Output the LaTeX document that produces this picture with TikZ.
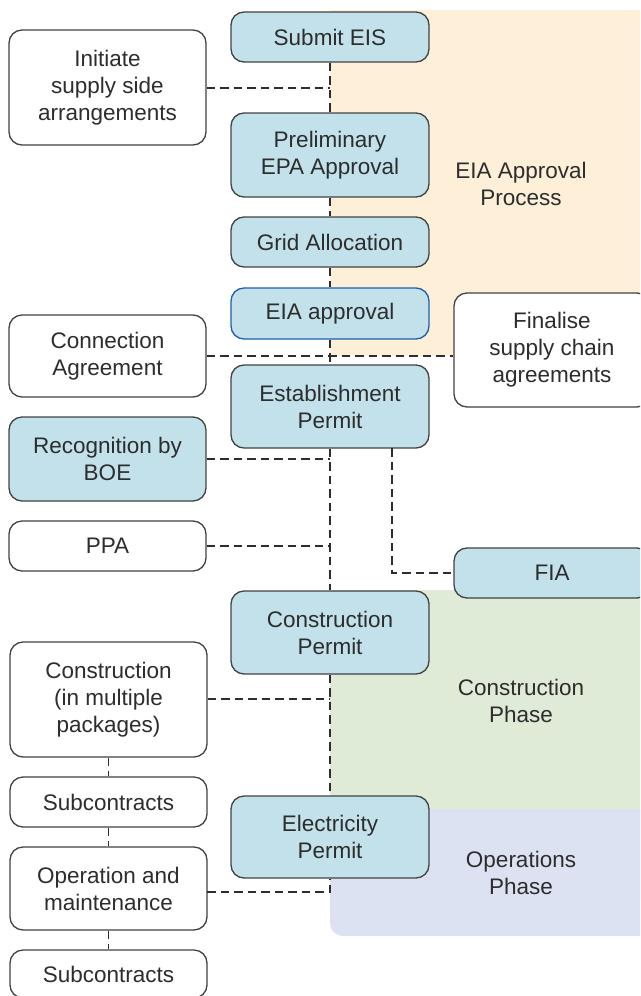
\documentclass[tikz,border=0pt]{standalone}
\usepackage{fontspec}
\setmainfont{Liberation Sans}
\definecolor{boxblue}{RGB}{194,225,234}
\definecolor{peach}{RGB}{254,239,217}
\definecolor{phgreen}{RGB}{223,234,215}
\definecolor{lav}{RGB}{220,226,242}
\definecolor{ink}{RGB}{45,45,45}
\definecolor{eiaborder}{RGB}{30,95,170}
\tikzset{
  base/.style={draw=ink!90, line width=1.3pt, rounded corners=13pt, align=center,
     text=ink, font=\fontsize{22.5}{27}\selectfont, inner sep=0pt},
  wbox/.style={base, fill=white},
  bbox/.style={base, fill=boxblue},
  mainbox/.style={bbox, minimum width=198pt},
  sidebox/.style={wbox, minimum width=197pt},
  link/.style={draw=ink, line width=1.8pt, dash pattern=on 8.5pt off 5pt},
  phase/.style={align=center, text=ink, font=\fontsize{22.5}{27}\selectfont}
}
\begin{document}
\begin{tikzpicture}[x=1pt,y=-1pt]
\useasboundingbox (0,0) rectangle (640,996);
\clip (0,0) rectangle (640,996);
% phase backgrounds
\fill[peach] (330,10) rectangle (660,356);
\fill[phgreen] (330,590) rectangle (660,809);
\fill[lav, rounded corners=13pt] (330,809) -- (330,936) -- (660,936) -- (660,809) -- cycle;
\fill[lav] (330,809) rectangle (660,900);
\node[phase] (eiap) at (521,184) {EIA Approval\\Process};
\node[phase] (consp) at (521,701) {Construction\\Phase};
\node[phase] (opsp) at (521,873) {Operations\\Phase};

% main column
\node[mainbox, minimum height=50pt] (submit) at (330,37) {Submit EIS};
\node[mainbox, minimum height=84pt] (prelim) at (330,155) {Preliminary\\EPA Approval};
\node[mainbox, minimum height=50pt] (grid) at (330,242) {Grid Allocation};
\node[mainbox, minimum height=51pt, draw=eiaborder] (eia) at (330,313.5) {EIA approval};
\node[mainbox, minimum height=83pt] (estab) at (330,406.5) {Establishment\\Permit};
\node[mainbox, minimum height=83pt] (constrp) at (330,632.5) {Construction\\Permit};
\node[mainbox, minimum height=82pt] (elecp) at (330,837) {Electricity\\Permit};

% left column
\node[sidebox, minimum height=115pt] (initiate) at (107.5,87.5) {Initiate\\supply side\\arrangements};
\node[sidebox, minimum height=82pt] (connect) at (107.5,356) {Connection\\Agreement};
\node[sidebox, minimum height=84pt, fill=boxblue] (recog) at (107.5,459) {Recognition by\\BOE};
\node[sidebox, minimum height=50pt] (ppa) at (107.5,546) {PPA};
\node[sidebox, minimum height=115pt] (constr) at (108.5,699.5) {Construction\\(in multiple\\packages)};
\node[sidebox, minimum height=50pt] (sub1) at (108.5,802) {Subcontracts};
\node[sidebox, minimum height=83pt] (om) at (108.5,888.5) {Operation and\\maintenance};
\node[sidebox, minimum height=48pt] (sub2) at (108.5,974) {Subcontracts};

% right column
\node[wbox, minimum width=196pt, minimum height=114pt] (final) at (552,350) {Finalise\\supply chain\\agreements};
\node[bbox, minimum width=196pt, minimum height=50pt] (fia) at (552,573) {FIA};

% connectors
\coordinate (j1) at (330,88);
\coordinate (j2) at (330,459);
\coordinate (j3) at (330,546);
\coordinate (j4) at (330,699);
\coordinate (j5) at (330,892);
\coordinate (omr) at (207,892);
\coordinate (estabb) at (392,448);
\coordinate (fiaj) at (392,573);

\draw[link] (submit) -- (prelim);
\draw[link] (initiate.east |- j1) -- (j1);
\draw[link] (prelim) -- (grid);
\draw[link] (grid) -- (eia);
\draw[link] (eia) -- (estab);
\draw[link] (connect.east) -- (final.west |- connect.east);
\draw[link] (estab) -- (constrp);
\draw[link] (recog.east) -- (j2);
\draw[link] (ppa.east) -- (j3);
\draw[link] (estabb) -- (fiaj) -- (fia.west);
\draw[link] (constrp) -- (elecp);
\draw[link] (constr.east |- j4) -- (j4);
\draw[link] (constr) -- (sub1);
\draw[link] (sub1) -- (om);
\draw[link] (om) -- (sub2);
\draw[link] (omr) -- (j5) -- (elecp.south);
\end{tikzpicture}
\end{document}
